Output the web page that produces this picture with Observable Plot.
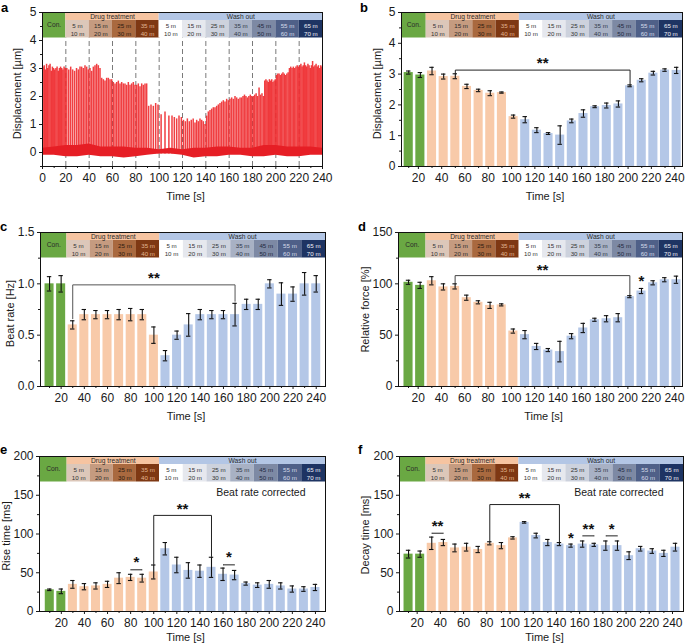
<!DOCTYPE html>
<html><head><meta charset="utf-8">
<script src="https://cdn.jsdelivr.net/npm/d3@7"></script>
<script src="https://cdn.jsdelivr.net/npm/@observablehq/plot@0.6"></script>
<style>
body{margin:0;background:#fff}
#fig{position:relative;width:685px;height:643px;overflow:hidden;font-family:"Liberation Sans",Arial,Helvetica,sans-serif}
#fig>div{position:absolute}
#fig>div.letter{font-size:13px;font-weight:bold;line-height:15px;color:#000}
</style></head><body><div id="fig"></div>
<script>
// ---------------- DATA ----------------
const times = [10,20,30,40,50,60,70,80,90,100,110,120,130,140,150,160,170,180,190,200,210,220,230,240];
const displacement    = [3.05,2.97,3.10,2.92,2.93,2.60,2.47,2.38,2.40,1.62,1.52,1.18,1.07,1.02,1.48,1.72,1.94,1.98,2.03,2.62,2.80,3.03,3.13,3.12];
const displacementErr = [0.05,0.08,0.12,0.08,0.08,0.07,0.04,0.08,0.02,0.05,0.10,0.08,0.03,0.30,0.06,0.12,0.03,0.08,0.10,0.03,0.05,0.06,0.04,0.10];
const beatRate    = [1.0,1.0,0.6,0.7,0.7,0.7,0.7,0.7,0.7,0.5,0.3,0.5,0.6,0.7,0.7,0.7,0.7,0.8,0.8,1.0,0.9,0.9,1.0,1.0];
const beatRateErr = [0.07,0.08,0.04,0.05,0.04,0.04,0.05,0.06,0.05,0.08,0.05,0.04,0.11,0.05,0.04,0.04,0.11,0.05,0.05,0.04,0.11,0.07,0.11,0.08];
const relForce    = [101.5,98.5,103,97,97.5,86.5,82,79,79.5,54,50.5,39,35.5,34,49,57,65,66,67,87.5,93,101,104,104];
const relForceErr = [2,3,4,3,2.5,2.5,1.5,3,1,2,4,3,1.5,10,2.5,4.5,1.5,3,4,1,2.5,2,2,3.5];
const riseTime    = [28,26,35,32,33,35,43,44,43,51,81,60,53,52,57,48,47,36,34,35,33,29,29,31];
const riseTimeErr = [1,3,5,4,4,4,7,4,5,9,8,10,10,8,13,8,6,2,3,5,4,4,3,4];
const decayTime    = [74,74,88,89,82,83,80,88,85,95,115,98,89,87,85,87,86,85,85,72,81,78,75,83];
const decayTimeErr = [5,4,8,4,5,5,4,2,4,1.5,1,3,4,2,2,4,2,6,6,5,3,3,4,5];

// panel a: beat peak heights per 10-s window and baseline noise band
const traceWindowStart = [0,10,20,30,40,50,60,70,80,90,100,110,120,130,140,150,160,170,180,190,200,210,220,230];
const tracePeaks = [
  [3.05,3.1,2.95,3.15,3.0,3.1,3.15,2.9,3.05,3.0],
  [2.95,3.0,3.05,2.9,3.0,3.05,3.0,2.95,3.05,3.0],
  [3.0,2.95,3.05,2.95,2.9,3.0],
  [2.95,3.05,3.05,3.0,3.1,3.05,2.95],
  [3.0,2.9,3.05,3.1,3.15,3.1,3.0],
  [2.65,2.6,2.55,2.65,2.65,2.6,2.6],
  [2.5,2.45,2.5,2.55,2.45,2.5,2.45],
  [2.45,2.4,2.5,2.4,2.45,2.5,2.4],
  [2.4,2.45,2.35,2.45,2.4,2.45,2.45],
  [1.65,1.7,1.65,1.75,1.7],
  [1.35,1.45,1.3],
  [1.3,1.25,1.2,1.3,1.25],
  [1.15,1.1,1.2,1.1,1.15,1.2],
  [1.05,1.15,1.1,1.2,1.15,1.1,1.0],
  [1.3,1.45,1.5,1.55,1.6,1.6,1.65],
  [1.7,1.75,1.8,1.85,1.8,1.9,1.85],
  [1.9,1.95,1.9,2.0,1.95,1.9,1.95],
  [1.95,2.0,2.05,2.0,1.95,2.0,2.05,2.0],
  [2.0,2.05,2.1,2.0,2.3,2.05,2.1,2.0],
  [2.55,2.6,2.55,2.5,2.6,2.55,2.6,2.5,2.55,2.6],
  [2.75,2.8,2.8,2.75,2.8,2.85,2.8,2.75,2.8],
  [2.85,3.0,3.05,3.0,3.05,3.0,3.05,3.1,3.05],
  [3.1,3.15,3.05,3.1,3.2,3.1,3.05,3.15,3.1,3.0],
  [3.1,3.25,3.05,3.1,3.15,3.05,3.1,3.0,3.1,3.05]
];
const baselineTimes = [0,10,20,30,40,50,60,70,80,90,100,110,120,130,140,150,160,170,180,190,200,210,220,230,240];
const baselineHigh = [0.15,0.2,0.25,0.25,0.3,0.2,0.2,0.2,0.15,0.15,0.1,0.15,0.1,0.15,0.15,0.2,0.2,0.15,0.15,0.25,0.25,0.2,0.2,0.2,0.15];
const baselineLow  = [-0.1,-0.1,-0.15,-0.15,-0.1,-0.15,-0.15,-0.2,-0.15,-0.1,-0.05,-0.05,-0.1,-0.2,-0.15,-0.15,-0.1,-0.1,-0.15,-0.15,-0.1,-0.15,-0.15,-0.1,-0.1];

// header labels
const phaseTitles = ["Con.", "Drug treatment", "Wash out"];
const drugLabels = [["5 m","10 m"],["15 m","20 m"],["25 m","30 m"],["35 m","40 m"]];
const washLabels = [["5 m","10 m"],["15 m","20 m"],["25 m","30 m"],["35 m","40 m"],["45 m","50 m"],["55 m","60 m"],["65 m","70 m"]];

// significance annotations
const sigB = {brackets:[{x1:50,x2:200,y:3.13,yl:3.02,yr:2.67}], stars:[{x:125,y:3.38,s:"**"}]};
const sigC = {brackets:[{x1:30,x2:170,y:0.99,yl:0.66,yr:0.83}], stars:[{x:100,y:1.065,s:"**"}]};
const sigD = {brackets:[{x1:50,x2:200,y:108,yl:101,yr:89.5}], stars:[{x:125,y:114,s:"**"},{x:210,y:103.5,s:"*"}]};
const sigE = {brackets:[{x1:100,x2:150,y:124,yl:61,yr:71},{x1:80,x2:90,y:53.8,yl:53.8,yr:53.8},{x1:160,x2:170,y:60.2,yl:60.2,yr:60.2}],
              stars:[{x:125,y:133,s:"**"},{x:85,y:64.5,s:"*"},{x:165,y:71,s:"*"}]};
const sigF = {brackets:[{x1:80,x2:140,y:138,yl:91,yr:90},{x1:30,x2:40,y:101,yl:101,yr:101},{x1:160,x2:170,y:97.6,yl:97.6,yr:97.6},{x1:180,x2:190,y:97.6,yl:97.6,yr:97.6}],
              stars:[{x:110,y:148,s:"**"},{x:35,y:111,s:"**"},{x:150,y:96.3,s:"*"},{x:165,y:107.5,s:"**"},{x:185,y:107.5,s:"*"}]};

const panelLetters = ["a","b","c","d","e","f"];

// ---------------- STYLE ----------------
const FONT = '"Liberation Sans", Arial, Helvetica, sans-serif';
const GREEN="#6aa843", PEACH="#f8caa9", BLUE="#b4c7e7";
const HEAD_PEACH="#f6c4a1", HEAD_BLUE="#b3c6e5";
const DRUG_FILLS=["#dcc7b9","#c59b80","#a9693f","#7e3813"];
const DRUG_TEXT=["#333","#2b2b2b","#2b1a10","#e2b592"];
const WASH_FILLS=["#ffffff","#e6e8ee","#cdd2dd","#a8b1c4","#7d89a4","#4f6088","#1e3463"];
const WASH_TEXT=["#333","#333","#333","#2f3748","#1f2a40","#d5dbe8","#eef1f7"];
const LETTER_POS=[[1,0],[360,0],[0,219],[358,219],[0,442],[358,442]];

function header(cfg){
  const [xmin,xmax]=cfg.x, [ymin,ymax]=cfg.y;
  const plotH = cfg.height - cfg.mT - cfg.mB;
  const py = p => ymax - p/plotH*(ymax-ymin);
  const top=ymax, mid=py(8), bot=py(25.5);
  const c=cfg.conEnd, dEnd=cfg.drugEnd;
  const dw=(dEnd-c)/drugLabels.length, ww=(xmax-dEnd)/washLabels.length;
  const blocks=[{x1:xmin,x2:c,y1:bot,y2:top,f:GREEN},{x1:c,x2:dEnd,y1:mid,y2:top,f:HEAD_PEACH},{x1:dEnd,x2:xmax,y1:mid,y2:top,f:HEAD_BLUE}];
  const cells=[
    ...drugLabels.map((l,i)=>({x1:c+i*dw,x2:c+(i+1)*dw,f:DRUG_FILLS[i],tc:DRUG_TEXT[i],t:l.join("\n")})),
    ...washLabels.map((l,i)=>({x1:dEnd+i*ww,x2:dEnd+(i+1)*ww,f:WASH_FILLS[i],tc:WASH_TEXT[i],t:l.join("\n")}))
  ];
  const titles=[{x:(xmin+c)/2,y:py(12.8),t:phaseTitles[0]},{x:(c+dEnd)/2,y:py(4.1),t:phaseTitles[1]},{x:(dEnd+xmax)/2,y:py(4.1),t:phaseTitles[2]}];
  return [
    Plot.rect(blocks,{x1:d=>d.x1,x2:d=>d.x2,y1:d=>d.y1,y2:d=>d.y2,fill:d=>d.f}),
    Plot.rect(cells,{x1:d=>d.x1,x2:d=>d.x2,y1:()=>bot,y2:()=>mid,fill:d=>d.f}),
    Plot.text(cells,{x:d=>(d.x1+d.x2)/2,y:()=>py(17),text:d=>d.t,fill:d=>d.tc,fontSize:6.2,lineHeight:1.2}),
    Plot.text(titles,{x:d=>d.x,y:d=>d.y,text:d=>d.t,fill:"#2a2a2a",fontSize:6.7})
  ];
}

function axes(cfg){
  return [
    Plot.axisX({ticks:cfg.xTicks,tickSize:3,tickPadding:4,label:null,fontSize:12,dx:cfg.xLabelDx||0}),
    Plot.axisX({ticks:cfg.xMinor,tickSize:2,tickFormat:()=>"",label:null}),
    Plot.axisY({ticks:cfg.yTicks,tickSize:3,tickPadding:3,label:null,fontSize:12,tickFormat:cfg.yFormat||d3.format("d")}),
    Plot.axisY({ticks:cfg.yMinor,tickSize:2,tickFormat:()=>"",label:null}),
    Plot.frame({stroke:"#111",strokeWidth:1})
  ];
}

function labels(cfg){
  return [
    Plot.text([cfg.yTitle],{text:d=>d,frameAnchor:"left",textAnchor:"middle",lineAnchor:"middle",rotate:-90,dx:cfg.yTitleDx,dy:cfg.yTitleDy,fontSize:11,fill:"#1a1a1a"}),
    Plot.text(["Time [s]"],{text:d=>d,frameAnchor:"bottom",textAnchor:"middle",lineAnchor:"middle",dy:cfg.xTitleDy,dx:3,fontSize:11,fill:"#1a1a1a"})
  ];
}

function place(svg,left,top){
  const div=document.createElement("div");
  div.style.left=left+"px"; div.style.top=top+"px";
  div.appendChild(svg);
  document.getElementById("fig").appendChild(div);
}

function makePlot(cfg,marks){
  return Plot.plot({
    width:cfg.width,height:cfg.height,
    marginLeft:cfg.mL,marginRight:cfg.mR,marginTop:cfg.mT,marginBottom:cfg.mB,
    x:{domain:cfg.x},y:{domain:cfg.y},
    color:{type:"identity"},
    style:{fontFamily:FONT,fontSize:"12px",color:"#1a1a1a",background:"transparent",overflow:"visible"},
    marks
  });
}

const xTicksBar=[20,40,60,80,100,120,140,160,180,200,220,240];
const xMinorBar=[10,30,50,70,90,110,130,150,170,190,210,230];

function barPanel(cfg,values,errs,sig){
  const rows=times.map((t,i)=>({t,v:values[i],e:errs[i],f:t<=20?GREEN:t<=100?PEACH:BLUE}));
  const caps=rows.flatMap(d=>[{t:d.t,y:d.v-d.e},{t:d.t,y:d.v+d.e}]);
  const brPts=sig.brackets.flatMap((b,i)=>[{id:i,x:b.x1,y:b.yl},{id:i,x:b.x1,y:b.y},{id:i,x:b.x2,y:b.y},{id:i,x:b.x2,y:b.yr}]);
  const marks=[
    Plot.rect(rows,{x1:d=>d.t-3.9,x2:d=>d.t+3.9,y1:()=>cfg.y[0],y2:d=>d.v,fill:d=>d.f}),
    Plot.ruleX(rows,{x:d=>d.t,y1:d=>d.v-d.e,y2:d=>d.v+d.e,stroke:"#111",strokeWidth:1.1}),
    Plot.ruleY(caps,{y:d=>d.y,x1:d=>d.t-1.9,x2:d=>d.t+1.9,stroke:"#111",strokeWidth:1.1}),
    Plot.line(brPts,{x:d=>d.x,y:d=>d.y,z:d=>d.id,stroke:cfg.brColor||"#222",strokeWidth:1}),
    Plot.text(sig.stars,{x:d=>d.x,y:d=>d.y,text:d=>d.s,fontSize:15,fontWeight:"bold",fill:"#111",dy:1}),
    ...header(cfg),
    ...(cfg.note?[Plot.text([cfg.note],{text:d=>d,frameAnchor:"top-right",textAnchor:"end",lineAnchor:"middle",dx:-20,dy:36,fontSize:10.5,fill:"#1a1a1a"})]:[]),
    ...axes(cfg),
    ...labels(cfg)
  ];
  return makePlot(cfg,marks);
}

// ---------------- PANEL A ----------------
{
  const cfg={width:340,height:205,mL:42,mR:18,mT:12,mB:39,x:[0,240],y:[-0.5,5],conEnd:20,drugEnd:100,
    xTicks:[0,20,40,60,80,100,120,140,160,180,200,220,240],xMinor:[10,30,50,70,90,110,130,150,170,190,210,230],
    yTicks:[0,1,2,3,4,5],yMinor:[-0.5,0.5,1.5,2.5,3.5,4.5],
    yTitle:"Displacement [µm]",yTitleDx:-25,yTitleDy:4,xTitleDy:30};
  const plotH=cfg.height-cfg.mT-cfg.mB;
  const headBottom=cfg.y[1]-25.5/plotH*(cfg.y[1]-cfg.y[0]);
  const beats=tracePeaks.flatMap((peaks,w)=>peaks.map((p,i)=>({t:traceWindowStart[w]+(i+0.5)*10/peaks.length,p})));
  const base=baselineTimes.map((t,i)=>({t,lo:baselineLow[i],hi:baselineHigh[i]}));
  const dashX=[20,40,60,80,100,120,140,160,180,200,220];
  const svg=makePlot(cfg,[
    Plot.ruleX(dashX,{x:d=>d,y1:()=>cfg.y[0],y2:()=>headBottom,stroke:"#7a7a7a",strokeWidth:1,strokeDasharray:"5,3"}),
    Plot.ruleX(beats,{x:d=>d.t,y1:()=>-0.05,y2:d=>d.p,stroke:"#ee2a2e",strokeWidth:1.5,strokeOpacity:0.9}),
    Plot.areaY(base,{x:d=>d.t,y1:d=>d.lo,y2:d=>d.hi,fill:"#e61e25"}),
    ...header(cfg),
    ...axes(cfg),
    ...labels(cfg)
  ]);
  place(svg,0,0);
}

// ---------------- PANELS B–F ----------------
place(barPanel({width:345,height:205,mL:61,mR:3,mT:12,mB:39,x:[3.8,245],y:[0,5],conEnd:25,drugEnd:105,
  xTicks:xTicksBar,xMinor:xMinorBar,yTicks:[0,1,2,3,4,5],yMinor:[0.5,1.5,2.5,3.5,4.5],xLabelDx:-2,
  yTitle:"Displacement [µm]",yTitleDx:-24,yTitleDy:4,xTitleDy:30},
  displacement,displacementErr,sigB),340,0);

place(barPanel({width:340,height:220,mL:40,mR:15,mT:27,mB:39,x:[2.2,248],y:[0,1.5],conEnd:25,drugEnd:105,
  xTicks:xTicksBar,xMinor:xMinorBar,yTicks:[0,0.5,1,1.5],yMinor:[0.25,0.75,1.25],yFormat:d3.format(".1f"),
  yTitle:"Beat rate [Hz]",yTitleDx:-30,yTitleDy:4,xTitleDy:30,brColor:"#555"},
  beatRate,beatRateErr,sigC),0,205);

place(barPanel({width:345,height:220,mL:58,mR:3,mT:27,mB:39,x:[1.4,245.2],y:[0,150],conEnd:25,drugEnd:105,
  xTicks:xTicksBar,xMinor:xMinorBar,yTicks:[0,50,100,150],yMinor:[25,75,125],xLabelDx:-2,
  yTitle:"Relative force [%]",yTitleDx:-33,yTitleDy:0,xTitleDy:30,brColor:"#444"},
  relForce,relForceErr,sigD),340,205);

place(barPanel({width:340,height:218,mL:39,mR:15,mT:31,mB:32,x:[1.1,248.7],y:[0,200],conEnd:25,drugEnd:105,
  xTicks:xTicksBar,xMinor:xMinorBar,yTicks:[0,50,100,150,200],yMinor:[25,75,125,175],
  yTitle:"Rise time [ms]",yTitleDx:-33,yTitleDy:2,xTitleDy:26,note:"Beat rate corrected"},
  riseTime,riseTimeErr,sigE),0,425);

place(barPanel({width:345,height:218,mL:59,mR:2,mT:31,mB:32,x:[2.2,246.9],y:[0,200],conEnd:25,drugEnd:105,
  xTicks:xTicksBar,xMinor:xMinorBar,yTicks:[0,50,100,150,200],yMinor:[25,75,125,175],xLabelDx:-3,
  yTitle:"Decay time [ms]",yTitleDx:-34,yTitleDy:1,xTitleDy:26,note:"Beat rate corrected"},
  decayTime,decayTimeErr,sigF),340,425);

// panel letters
panelLetters.forEach((l,i)=>{
  const d=document.createElement("div");
  d.className="letter"; d.textContent=l;
  d.style.left=LETTER_POS[i][0]+"px"; d.style.top=LETTER_POS[i][1]+"px";
  document.getElementById("fig").appendChild(d);
});
</script></body></html>
